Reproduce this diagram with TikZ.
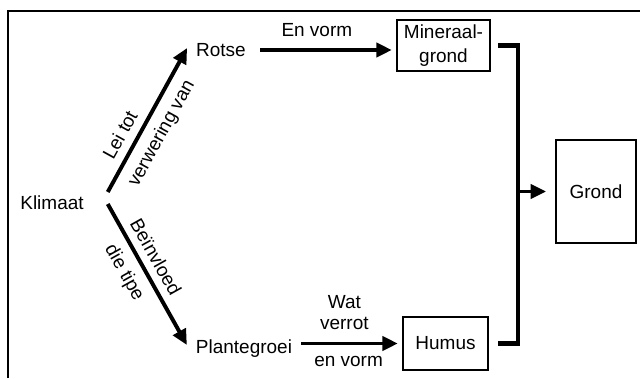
\documentclass[tikz,border=0pt]{standalone}
\usepackage{fontspec}
\setmainfont{Liberation Sans}
\usetikzlibrary{arrows.meta}

\begin{document}
\begin{tikzpicture}[
  x=0.025cm, y=0.025cm,
  font=\fontsize{13.5}{16}\selectfont,
  lbl/.style={inner sep=2pt},
  box/.style={draw=black, line width=1.2pt, rectangle,
              inner sep=2pt, align=center},
  flow/.style={-{Triangle[length=11pt, width=10pt]}, line width=2.8pt},
  merge/.style={line width=3pt},
  tag/.style={sloped, inner sep=2pt},
  frame/.style={line width=1.9pt},
]
\useasboundingbox (0,0) rectangle (640,378);
% Frame (top and left edge only)
\draw[frame] (8,0) -- (8,367) -- (640,367);
% Text nodes
\node[lbl] (klimaat) at (52,175) {Klimaat};
\node[lbl] (rotse) at (221,328) {Rotse};
\node[lbl] (plante) at (244,29) {Plantegroei};
% Boxes
\node[box, minimum width=2.33cm, minimum height=1.28cm,
      font=\fontsize{13.5}{17}\selectfont] (mineraal) at (443.5,332.5) {Mineraal-\\grond};
\node[box, minimum width=2.13cm, minimum height=1.33cm] (humus) at (445.5,34.5) {Humus};
\node[box, minimum width=2cm, minimum height=2.58cm] (grond) at (596,186.5) {Grond};
% Klimaat -> Rotse / Plantegroei
\draw[flow] ([shift={(21,11)}]klimaat.east) -- ([shift={(-6,2)}]rotse.west)
  node[tag, pos=.34, above=3.7pt] {Lei tot}
  node[tag, pos=.47, below=4pt] {verwering van};
\draw[flow] ([shift={(21,-1)}]klimaat.east) -- ([shift={(-6,4)}]plante.west)
  node[tag, pos=.43, above=3.2pt] {Beïnvloed}
  node[tag, pos=.42, below=4.2pt] {die tipe};
% Horizontal arrows
\draw[flow, shorten <=8pt, shorten >=3pt] (rotse.east) -- (rotse.east -| mineraal.west)
  node[midway, above=5pt, xshift=-4pt] {En vorm};
\draw[flow, shorten <=4.3pt, shorten >=3pt] (plante.east |- humus.west) -- (humus.west)
  node[midway, above=5pt, xshift=-3pt, align=center,
       font=\fontsize{13.5}{15}\selectfont] {Wat\\verrot}
  node[midway, below=4.5pt] {en vorm};
% Bracket into Grond
\coordinate (bend) at (518,0);
\draw[merge, shorten <=5pt, shorten >=6.4pt]
  (mineraal.east) -- (mineraal.east -| bend) -- (humus.east -| bend) -- (humus.east);
\draw[flow, shorten >=6.4pt] (bend |- grond.west) -- (grond.west);
\end{tikzpicture}
\end{document}
